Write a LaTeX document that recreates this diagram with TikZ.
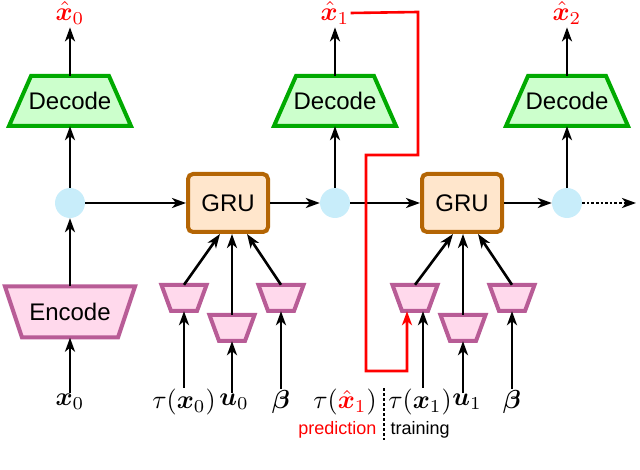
\documentclass[tikz,border=0pt]{standalone}
\usepackage{fontspec}
\usepackage{amsmath,bm,graphicx}
\setmainfont{Liberation Sans}
\usetikzlibrary{arrows.meta}
\definecolor{decfill}{HTML}{CCFFCC}
\definecolor{decdraw}{HTML}{00AA00}
\definecolor{encfill}{HTML}{FFD9EC}
\definecolor{encdraw}{HTML}{B85C96}
\definecolor{grufill}{HTML}{FFE6CC}
\definecolor{grudraw}{HTML}{B46504}
\definecolor{state}{HTML}{C8EDFA}
\newcommand\mlbl[1]{\scalebox{2.6}{$#1$}}
% trapezoid: name, x, y, top width, bottom width, height, style, text
\newcommand\trapnode[8]{%
  \path[#7] (#2-#5/2,#3+#6/2) -- (#2+#5/2,#3+#6/2) -- (#2+#4/2,#3-#6/2) -- (#2-#4/2,#3-#6/2) -- cycle;
  \node[minimum width=#4,minimum height=#6,inner sep=0pt,font=\fontsize{24}{24}\selectfont] (#1) at (#2,#3) {#8};}
\begin{document}
\begin{tikzpicture}[x=1pt,y=-1pt,
  arr/.style={line width=2.6pt,-{Stealth[length=14pt,width=10pt,inset=4pt]}},
  dec/.style={draw=decdraw,fill=decfill,line width=4pt,line join=miter},
  enc/.style={draw=encdraw,fill=encfill,line width=4pt,line join=miter},
  gru/.style={draw=grudraw,fill=grufill,line width=4pt,rounded corners=5pt,minimum width=80pt,minimum height=58pt,
    font=\fontsize{24}{24}\selectfont},
  st/.style={circle,fill=state,minimum size=30pt,inner sep=0pt},
  lab/.style={inner sep=1pt}]
\useasboundingbox (0,0) rectangle (640,470);
% outputs
\node[lab,red] (y0) at (70,13) {\mlbl{\hat{\bm x}_0}};
\node[lab,red] (y1) at (335,13) {\mlbl{\hat{\bm x}_1}};
\node[lab,red] (y2) at (567,13) {\mlbl{\hat{\bm x}_2}};
\trapnode{d0}{70}{101}{78}{122}{50}{dec}{Decode}
\trapnode{d1}{335}{101}{78}{122}{50}{dec}{Decode}
\trapnode{d2}{567}{101}{78}{122}{50}{dec}{Decode}
% states
\node[st] (h0) at (70,203) {};
\node[st] (h1) at (335,203) {};
\node[st] (h2) at (567,203) {};
\coordinate (hend) at (636,203);
\node[gru] (g0) at (228,203) {GRU};
\node[gru] (g1) at (462,203) {GRU};
\trapnode{e0}{70}{312}{130}{96}{51}{enc}{Encode}
% small encoders
\trapnode{a0}{184}{298}{45}{26}{26}{enc}{}
\trapnode{b0}{232}{328}{45}{26}{26}{enc}{}
\trapnode{c0}{281}{298}{45}{26}{26}{enc}{}
\trapnode{a1}{415}{298}{45}{26}{26}{enc}{}
\trapnode{b1}{463}{328}{45}{26}{26}{enc}{}
\trapnode{c1}{512}{298}{45}{26}{26}{enc}{}
% inputs
\node[lab] (x0) at (70,402) {\mlbl{\bm x_0}};
\node[lab] (t0) at (184,402) {\mlbl{\tau(\bm x_0)}};
\node[lab] (u0) at (234,402) {\mlbl{\bm u_0}};
\node[lab] (p0) at (281,402) {\mlbl{\bm\beta}};
\node[lab] (tp) at (345,402) {\mlbl{\tau(\textcolor{red}{\hat{\bm x}_1})}};
\node[lab] (t1) at (420,402) {\mlbl{\tau(\bm x_1)}};
\node[lab] (u1) at (467,402) {\mlbl{\bm u_1}};
\node[lab] (p1) at (512,402) {\mlbl{\bm\beta}};
\node[red,anchor=east,font=\fontsize{18}{18}\selectfont] (pr) at (380,430) {prediction};
\node[anchor=west,font=\fontsize{18}{18}\selectfont] (tr) at (387,430) {training};
\draw[line width=2.6pt,dash pattern=on 2.5pt off 2.5pt] (384,388) -- (384,440);
% arrows
\draw[arr,shorten >=2pt] (d0) -- (y0);
\draw[arr,shorten >=2pt] (d1) -- (y1);
\draw[arr,shorten >=2pt] (d2) -- (y2);
\draw[arr] (h0) -- (d0);
\draw[arr] (h1) -- (d1);
\draw[arr] (h2) -- (d2);
\draw[arr] (e0) -- (h0);
\draw[arr] (x0) -- (e0);
\draw[arr] (h0) -- (g0);
\draw[arr] (g0) -- (h1);
\draw[arr] (h1) -- (g1);
\draw[arr] (g1) -- (h2);
\draw[arr,dotted] (h2) -- (hend);
\draw[arr] (a0.north) -- (g0.south -| 220,0);
\draw[arr] (b0.north -| 232,0) -- (g0.south -| 232,0);
\draw[arr] (c0.north) -- (g0.south -| 247,0);
\draw[arr] (a1.north) -- (g1.south -| 453,0);
\draw[arr] (b1.north -| 463,0) -- (g1.south -| 463,0);
\draw[arr] (c1.north) -- (g1.south -| 478,0);
\draw[arr] (t0) -- (a0);
\draw[arr] (u0.north -| 232,0) -- (b0.south -| 232,0);
\draw[arr] (p0) -- (c0);
\draw[arr] (t1.north -| 423,0) -- (a1.south -| 423,0);
\draw[arr] (u1.north -| 463,0) -- (b1.south -| 463,0);
\draw[arr] (p1) -- (c1);
\draw[red,arr] (y1.east) -- (418,12) -- (418,155) -- (366,155) -- (366,371) -- (407,371) -- (a1.south -| 407,0);
\end{tikzpicture}
\end{document}
